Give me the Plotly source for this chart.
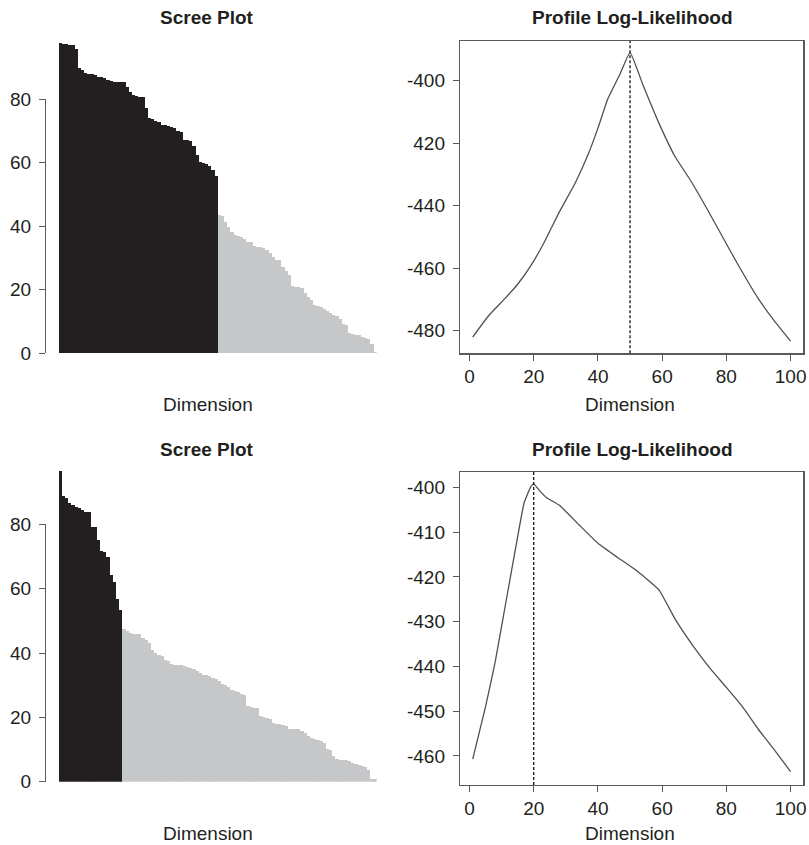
import plotly.graph_objects as go

W, H = 809, 845

# ---------------- data ----------------
top_selected = 50
bottom_selected = 20

top_scree = [
    97.6, 97.5, 97.3, 97.2, 97.0, 95.7, 89.8, 89.2, 88.2, 88.0,
    88.0, 87.7, 87.0, 86.9, 86.6, 86.0, 85.8, 85.6, 85.5, 85.4,
    85.4, 83.8, 82.4, 81.2, 81.0, 80.6, 80.6, 77.4, 74.0, 73.8,
    73.3, 72.7, 72.0, 71.8, 71.6, 71.3, 70.9, 70.1, 69.7, 67.2,
    67.1, 66.8, 65.4, 62.5, 60.2, 59.8, 59.5, 59.0, 57.7, 56.0,
    43.6, 43.3, 41.2, 39.7, 38.2, 37.4, 37.1, 36.5, 35.9, 35.2,
    35.0, 33.8, 33.5, 33.4, 33.1, 32.5, 31.5, 30.4, 29.4, 29.3,
    27.3, 26.0, 24.7, 21.3, 21.0, 20.8, 20.6, 18.9, 17.8, 16.8,
    15.1, 14.9, 14.7, 14.1, 13.2, 12.6, 12.1, 11.9, 10.8, 9.2,
    9.0, 6.5, 6.1, 5.9, 5.7, 5.2, 4.7, 4.6, 2.9, 0.5,
]

bottom_scree = [
    96.6, 88.8, 88.1, 86.7, 86.0, 85.5, 85.0, 84.5, 83.9, 83.7,
    79.1, 79.1, 75.1, 71.7, 71.5, 69.7, 64.2, 62.1, 56.8, 53.4,
    47.4, 46.9, 46.1, 45.8, 45.8, 45.8, 44.6, 44.2, 43.0, 40.9,
    39.9, 39.4, 39.1, 37.8, 37.6, 36.6, 36.4, 36.3, 36.2, 36.0,
    35.8, 35.2, 34.9, 34.5, 33.9, 33.1, 33.1, 32.8, 32.1, 31.8,
    31.4, 30.4, 30.1, 29.5, 28.5, 28.3, 27.8, 27.2, 26.9, 23.5,
    23.1, 22.9, 22.8, 20.5, 20.2, 19.7, 19.6, 18.1, 17.9, 17.8,
    17.6, 17.3, 16.5, 16.5, 16.3, 16.3, 15.9, 15.2, 14.2, 13.5,
    13.2, 13.0, 12.7, 12.1, 10.1, 9.8, 8.0, 7.2, 6.9, 6.7,
    6.7, 6.3, 5.7, 5.5, 5.2, 5.0, 4.5, 3.6, 0.8, 0.8,
]

top_dims = [1, 6, 11, 15, 19, 23, 28, 33, 37, 40, 43, 47, 50,
            54, 59, 64, 69, 74, 79, 84, 90, 95, 100]
top_loglik = [-482.1, -475.2, -469.8, -465.2, -459.4, -452.3, -442.0,
              -432.6, -423.5, -415.2, -406.0, -397.6, -391.0,
              -401.3, -413.6, -424.3, -432.2, -441.1, -450.4, -459.6,
              -469.9, -477.0, -483.4]

bottom_dims = [1, 5, 8, 10, 13, 15, 17, 19, 20, 22, 24, 28, 34, 40, 46,
               52, 59, 64, 70, 75, 80, 85, 90, 95, 100]
bottom_loglik = [-460.7, -449.0, -439.0, -431.0, -419.0, -411.0, -403.5,
                 -400.0, -399.2, -400.9, -402.3, -404.0, -408.3, -412.5,
                 -415.6, -418.6, -422.9, -429.4, -435.8, -440.5, -444.7,
                 -449.0, -454.1, -458.7, -463.5]

scree_ticks = [0, 20, 40, 60, 80]
top_ll_ticks = [-480, -460, -440, -420, -400]
top_ll_ticktext = ["-480", "-460", "-440", "420", "-400"]
bottom_ll_ticks = [-460, -450, -440, -430, -420, -410, -400]
bottom_ll_ticktext = ["-460", "-450", "-440", "-430", "-420", "-410", "-400"]
dim_ticks = [0, 20, 40, 60, 80, 100]

# ---------------- style ----------------
DARK = "#231f20"
LIGHT = "#c6c7c9"
AXC = "#5a5a5a"
TXT = "#231f20"
FONT = "Liberation Sans"
FS = 19


def px_x(p):
    return p / W


def px_y(p):
    return 1 - p / H


fig = go.Figure()


def scree(values, k, xa, ya):
    idx = list(range(1, len(values) + 1))
    cols = [DARK if i <= k else LIGHT for i in idx]
    fig.add_trace(go.Bar(
        x=[i - 0.5 for i in idx], y=values, width=1.04,
        marker=dict(color=cols, line=dict(width=0)),
        xaxis=xa, yaxis=ya, showlegend=False, hoverinfo="skip"))


scree(top_scree, top_selected, "x", "y")
fig.add_trace(go.Scatter(x=[], y=[], xaxis="x", yaxis="y2", showlegend=False))
scree(bottom_scree, bottom_selected, "x3", "y4")
fig.add_trace(go.Scatter(x=[], y=[], xaxis="x3", yaxis="y5", showlegend=False))

fig.add_trace(go.Scatter(x=top_dims, y=top_loglik, mode="lines",
                         line=dict(color="#505050", width=1.3, shape="spline", smoothing=0.4),
                         xaxis="x2", yaxis="y3", showlegend=False))
fig.add_trace(go.Scatter(x=bottom_dims, y=bottom_loglik, mode="lines",
                         line=dict(color="#505050", width=1.3, shape="spline", smoothing=0.4),
                         xaxis="x4", yaxis="y6", showlegend=False))

hidden = dict(visible=False, fixedrange=True, automargin=False)
tickfont = dict(family=FONT, size=FS, color=TXT)
common = dict(showgrid=False, zeroline=False, automargin=False,
              ticks="outside", ticklen=6, tickcolor=AXC, tickfont=tickfont)

scree_x_dom = [px_x(58.7), px_x(376.7)]
prof_x_dom = [px_x(460), px_x(803.3)]

layout = dict(
    template="none",
    width=W, height=H, autosize=False,
    margin=dict(l=0, r=0, t=0, b=0, pad=0),
    paper_bgcolor="white", plot_bgcolor="rgba(0,0,0,0)",
    bargap=0, barmode="overlay", showlegend=False,
    font=dict(family=FONT, size=FS, color=TXT),
    xaxis=dict(domain=scree_x_dom, range=[0, 100], anchor="y", **hidden),
    yaxis=dict(domain=[px_y(353.3), px_y(353.3 - 100 * 3.175)], range=[0, 100],
               anchor="x", **hidden),
    yaxis2=dict(domain=[px_y(353.3), px_y(99.3)], range=[0, 80], anchor="free",
                position=px_x(45), showline=True, linecolor=AXC, linewidth=1,
                tickvals=scree_ticks, ticklabelstandoff=4, **common),
    xaxis3=dict(domain=scree_x_dom, range=[0, 100], anchor="y4", **hidden),
    yaxis4=dict(domain=[px_y(781.7), px_y(781.7 - 100 * 3.217)], range=[0, 100],
                anchor="x3", **hidden),
    yaxis5=dict(domain=[px_y(781.7), px_y(524.3)], range=[0, 80], anchor="free",
                position=px_x(45), showline=True, linecolor=AXC, linewidth=1,
                tickvals=scree_ticks, ticklabelstandoff=4, **common),
    xaxis2=dict(domain=prof_x_dom, range=[-2.96, 103.96], anchor="y3",
                showline=True, mirror=True, linecolor=AXC, linewidth=1.2,
                tickvals=dim_ticks, **common),
    yaxis3=dict(domain=[px_y(353.3), px_y(41)], range=[-487.3, -387.3],
                anchor="x2", showline=True, mirror=True, linecolor=AXC,
                linewidth=1.2, tickvals=top_ll_ticks, ticktext=top_ll_ticktext,
                ticklabelstandoff=4, **common),
    xaxis4=dict(domain=prof_x_dom, range=[-2.96, 103.96], anchor="y6",
                showline=True, mirror=True, linecolor=AXC, linewidth=1.2,
                tickvals=dim_ticks, **common),
    yaxis6=dict(domain=[px_y(785), px_y(471.7)], range=[-466.5, -396.5],
                anchor="x4", showline=True, mirror=True, linecolor=AXC,
                linewidth=1.2, tickvals=bottom_ll_ticks,
                ticktext=bottom_ll_ticktext, ticklabelstandoff=4, **common),
)
fig.update_layout(**layout)

fig.add_shape(type="line", xref="x2", yref="y3 domain", x0=top_selected,
              x1=top_selected, y0=0, y1=1,
              line=dict(color="black", width=1.2, dash="3px,2px"))
fig.add_shape(type="line", xref="x4", yref="y6 domain", x0=bottom_selected,
              x1=bottom_selected, y0=0, y1=1,
              line=dict(color="black", width=1.2, dash="3px,2px"))


def ann(text, xp, yp, bold=False):
    fig.add_annotation(text=f"<b>{text}</b>" if bold else text,
                       x=px_x(xp), y=px_y(yp), xref="paper", yref="paper",
                       xanchor="center", yanchor="middle", showarrow=False,
                       font=dict(family=FONT, size=FS, color=TXT))


ann("Scree Plot", 207, 18, True)
ann("Profile Log-Likelihood", 632, 18, True)
ann("Scree Plot", 207, 449, True)
ann("Profile Log-Likelihood", 632, 449, True)
ann("Dimension", 208, 404)
ann("Dimension", 630, 404)
ann("Dimension", 208, 833)
ann("Dimension", 630, 833)

fig.write_html(
    "out.html",
    config={"displayModeBar": False, "staticPlot": True},
    post_script="document.body.style.margin='0';document.body.style.overflow='hidden';",
)
